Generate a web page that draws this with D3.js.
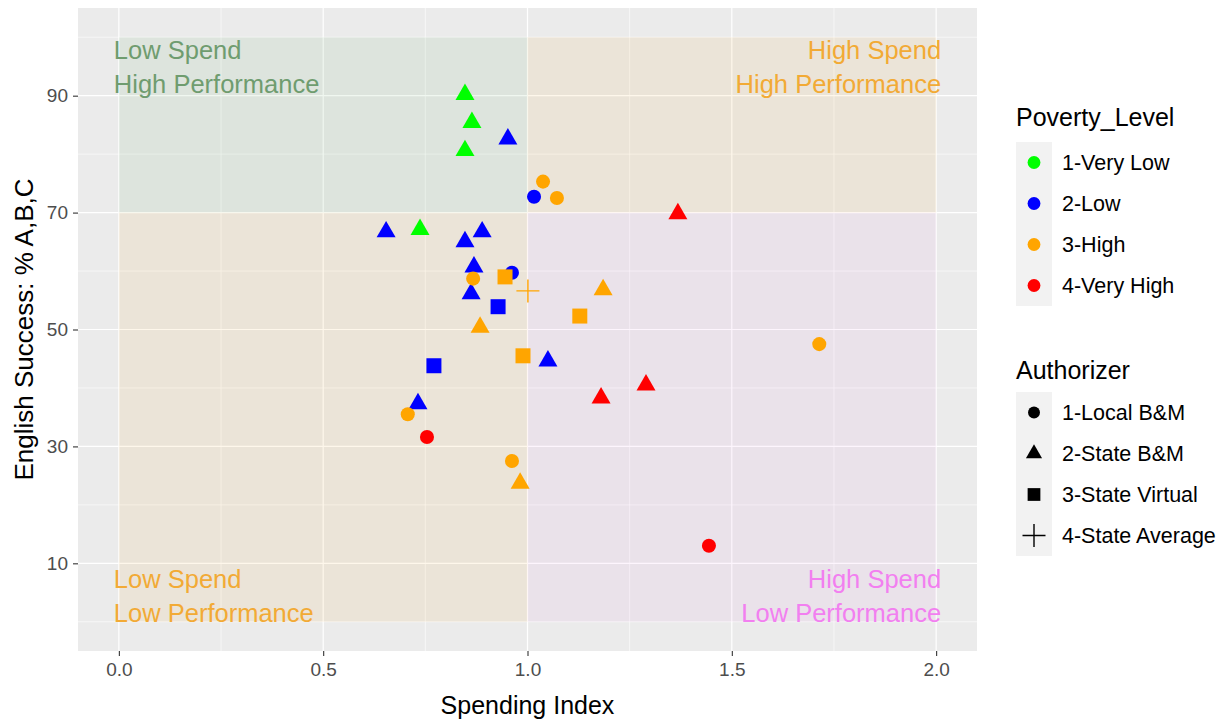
<!DOCTYPE html>
<html>
<head>
<meta charset="utf-8">
<script src="https://cdn.jsdelivr.net/npm/d3@7"></script>
<style>
  html, body { margin: 0; padding: 0; background: #ffffff; }
  svg { display: block; font-family: "Liberation Sans", Arial, sans-serif; }
</style>
</head>
<body>
<svg id="chart" width="1227" height="723"></svg>
<script>
// ---------------- data ----------------
const spendingIndex = [0.847, 0.864, 0.847, 0.737,
  0.952, 0.654, 0.847, 0.889, 0.869, 0.862, 1.050, 0.732,
  1.016, 0.962,
  0.928, 0.771,
  1.038, 1.072, 0.867, 1.714, 0.707, 0.962,
  1.185, 0.884, 0.982,
  0.945, 1.128, 0.989,
  1.001,
  1.368, 1.290, 1.180,
  0.754, 1.444];
const englishSuccess = [90.2, 85.4, 80.6, 67.1,
  82.6, 66.7, 65.0, 66.7, 60.7, 56.1, 44.6, 37.3,
  72.7, 59.7,
  53.9, 43.8,
  75.3, 72.5, 58.7, 47.5, 35.5, 27.5,
  56.8, 50.4, 23.7,
  59.0, 52.3, 45.5,
  56.6,
  69.8, 40.5, 38.3,
  31.6, 13.0];
const povertyLevel = ["1-Very Low","1-Very Low","1-Very Low","1-Very Low",
  "2-Low","2-Low","2-Low","2-Low","2-Low","2-Low","2-Low","2-Low",
  "2-Low","2-Low",
  "2-Low","2-Low",
  "3-High","3-High","3-High","3-High","3-High","3-High",
  "3-High","3-High","3-High",
  "3-High","3-High","3-High",
  "3-High",
  "4-Very High","4-Very High","4-Very High",
  "4-Very High","4-Very High"];
const authorizer = ["2-State B&M","2-State B&M","2-State B&M","2-State B&M",
  "2-State B&M","2-State B&M","2-State B&M","2-State B&M","2-State B&M","2-State B&M","2-State B&M","2-State B&M",
  "1-Local B&M","1-Local B&M",
  "3-State Virtual","3-State Virtual",
  "1-Local B&M","1-Local B&M","1-Local B&M","1-Local B&M","1-Local B&M","1-Local B&M",
  "2-State B&M","2-State B&M","2-State B&M",
  "3-State Virtual","3-State Virtual","3-State Virtual",
  "4-State Average",
  "2-State B&M","2-State B&M","2-State B&M",
  "1-Local B&M","1-Local B&M"];
// draw order: blue circle sits behind the orange square
const drawOrder = [0,1,2,3,4,5,6,7,8,9,10,11,12,14,15,13,16,17,18,19,20,21,22,23,24,25,26,27,28,29,30,31,32,33];

const povertyLevels = ["1-Very Low","2-Low","3-High","4-Very High"];
const povertyColors = ["#00ff00","#0000ff","#ffa500","#ff0000"];
const authorizerLevels = ["1-Local B&M","2-State B&M","3-State Virtual","4-State Average"];

const xTicks = [0.0, 0.5, 1.0, 1.5, 2.0];
const xMinor = [0.25, 0.75, 1.25, 1.75];
const yTicks = [10, 30, 50, 70, 90];
const yMinor = [0, 20, 40, 60, 80, 100];

const quadrantX0 = [0, 1, 0, 1];
const quadrantX1 = [1, 2, 1, 2];
const quadrantY0 = [70, 70, 0, 0];
const quadrantY1 = [100, 100, 70, 70];
const quadrantLine1 = ["Low Spend", "High Spend", "Low Spend", "High Spend"];
const quadrantLine2 = ["High Performance", "High Performance", "Low Performance", "Low Performance"];

// ---------------- layout ----------------
const svg = d3.select("#chart");
const panel = {left: 78, right: 977, top: 8, bottom: 651};

const x = d3.scaleLinear().domain([-0.1, 2.1]).range([panel.left, panel.right]);
const y = d3.scaleLinear().domain([-5, 105]).range([panel.bottom, panel.top]);
const color = d3.scaleOrdinal().domain(povertyLevels).range(povertyColors);

// panel background
svg.append("rect")
  .attr("x", panel.left).attr("y", panel.top)
  .attr("width", panel.right - panel.left).attr("height", panel.bottom - panel.top)
  .attr("fill", "#ebebeb");

// grid
const grid = svg.append("g");
grid.selectAll(".vmin").data(xMinor).enter().append("line")
  .attr("x1", d => x(d)).attr("x2", d => x(d))
  .attr("y1", panel.top).attr("y2", panel.bottom)
  .attr("stroke", "#ffffff").attr("stroke-width", 0.6);
grid.selectAll(".hmin").data(yMinor).enter().append("line")
  .attr("y1", d => y(d)).attr("y2", d => y(d))
  .attr("x1", panel.left).attr("x2", panel.right)
  .attr("stroke", "#ffffff").attr("stroke-width", 0.6);
grid.selectAll(".vmaj").data(xTicks).enter().append("line")
  .attr("x1", d => x(d)).attr("x2", d => x(d))
  .attr("y1", panel.top).attr("y2", panel.bottom)
  .attr("stroke", "#ffffff").attr("stroke-width", 1.2);
grid.selectAll(".hmaj").data(yTicks).enter().append("line")
  .attr("y1", d => y(d)).attr("y2", d => y(d))
  .attr("x1", panel.left).attr("x2", panel.right)
  .attr("stroke", "#ffffff").attr("stroke-width", 1.2);

// quadrant rectangles (semi-transparent, over grid)
const quadFill = ["#2e8b2e", "#f5a623", "#f5a623", "#e070e8"];
const quadOpacity = [0.07, 0.09, 0.09, 0.07];
const quadText = ["#6f9c6f", "#f2aa35", "#f2aa35", "#f27ff0"];
const quads = d3.range(4);
svg.append("g").selectAll("rect").data(quads).enter().append("rect")
  .attr("x", i => x(quadrantX0[i]))
  .attr("y", i => y(quadrantY1[i]))
  .attr("width", i => x(quadrantX1[i]) - x(quadrantX0[i]))
  .attr("height", i => y(quadrantY0[i]) - y(quadrantY1[i]))
  .attr("fill", i => quadFill[i])
  .attr("fill-opacity", i => quadOpacity[i]);

// quadrant labels
const labelG = svg.append("g").style("font-size", "25.5px");
quads.forEach(i => {
  const left = (i % 2 === 0);
  const top = i < 2;
  const tx = left ? x(quadrantX0[i]) - 5 : x(quadrantX1[i]) + 5;
  const ty1 = top ? y(quadrantY1[i]) + 21.5 : y(quadrantY0[i]) - 34;
  const t = labelG.append("text")
    .attr("x", tx)
    .attr("text-anchor", left ? "start" : "end")
    .attr("fill", quadText[i]);
  t.append("tspan").attr("x", tx).attr("y", ty1).text(quadrantLine1[i]);
  t.append("tspan").attr("x", tx).attr("y", ty1 + 34.5).text(quadrantLine2[i]);
});

// axes
const xAxis = d3.axisBottom(x).tickValues(xTicks).tickFormat(d3.format(".1f")).tickSize(5).tickPadding(4);
const yAxis = d3.axisLeft(y).tickValues(yTicks).tickFormat(d3.format("d")).tickSize(5).tickPadding(5);
const gx = svg.append("g").attr("transform", `translate(0,${panel.bottom})`).call(xAxis);
const gy = svg.append("g").attr("transform", `translate(${panel.left},0)`).call(yAxis);
[gx, gy].forEach(g => {
  g.select(".domain").remove();
  g.selectAll(".tick line").attr("stroke", "#333333").attr("stroke-width", 1.1);
  g.selectAll(".tick text").attr("fill", "#4d4d4d").style("font-size", "19px")
    .style("font-family", "'Liberation Sans', Arial, sans-serif");
});
gx.selectAll(".tick text").attr("dy", "0.85em");

svg.append("text")
  .attr("x", (panel.left + panel.right) / 2).attr("y", 714)
  .attr("text-anchor", "middle").attr("fill", "#000")
  .style("font-size", "25px").text("Spending Index");
svg.append("text")
  .attr("transform", `translate(33,${(panel.top + panel.bottom) / 2}) rotate(-90)`)
  .attr("text-anchor", "middle").attr("fill", "#000")
  .style("font-size", "26px").text("English Success: % A,B,C");

// shapes
function shapePath(type) {
  if (type === "1-Local B&M") return d3.symbol(d3.symbolCircle, 155)();
  if (type === "2-State B&M") {
    const s = 19, h = s * Math.sqrt(3) / 2;
    return `M0,${-2 * h / 3}L${s / 2},${h / 3}L${-s / 2},${h / 3}Z`;
  }
  if (type === "3-State Virtual") return "M-7.5,-7.5H7.5V7.5H-7.5Z";
  return "M-11.5,0H11.5M0,-11.5V11.5";
}

const pts = svg.append("g");
drawOrder.forEach(i => {
  const a = authorizer[i];
  const c = color(povertyLevel[i]);
  const p = pts.append("path")
    .attr("d", shapePath(a))
    .attr("transform", `translate(${x(spendingIndex[i])},${y(englishSuccess[i])})`);
  if (a === "4-State Average") {
    p.attr("fill", "none").attr("stroke", c).attr("stroke-width", 1.4);
  } else {
    p.attr("fill", c);
  }
});

// legends
const legX = 1016;
const keyW = 36, keyH = 41;
function legend(title, titleY, keysTop, items, drawKey) {
  svg.append("text").attr("x", legX).attr("y", titleY)
    .style("font-size", "25px").attr("fill", "#000").text(title);
  const g = svg.append("g");
  items.forEach((it, k) => {
    const ky = keysTop + k * keyH;
    g.append("rect").attr("x", legX).attr("y", ky).attr("width", keyW).attr("height", keyH)
      .attr("fill", "#f2f2f2");
    drawKey(g, it, k, legX + keyW / 2, ky + keyH / 2);
    g.append("text").attr("x", legX + keyW + 10).attr("y", ky + keyH / 2 + 7.5)
      .style("font-size", "21.5px").attr("fill", "#000").text(it);
  });
}
legend("Poverty_Level", 126, 142, povertyLevels, (g, it, k, cx, cy) => {
  g.append("path").attr("d", d3.symbol(d3.symbolCircle, 130)())
    .attr("transform", `translate(${cx},${cy})`).attr("fill", color(it));
});
legend("Authorizer", 379, 392, authorizerLevels, (g, it, k, cx, cy) => {
  const p = g.append("path").attr("d", shapePath(it))
    .attr("transform", `translate(${cx},${cy})`);
  if (it === "4-State Average") p.attr("fill", "none").attr("stroke", "#000").attr("stroke-width", 1.4);
  else p.attr("fill", "#000").attr("transform", `translate(${cx},${cy}) scale(0.85)`);
});
</script>
</body>
</html>
